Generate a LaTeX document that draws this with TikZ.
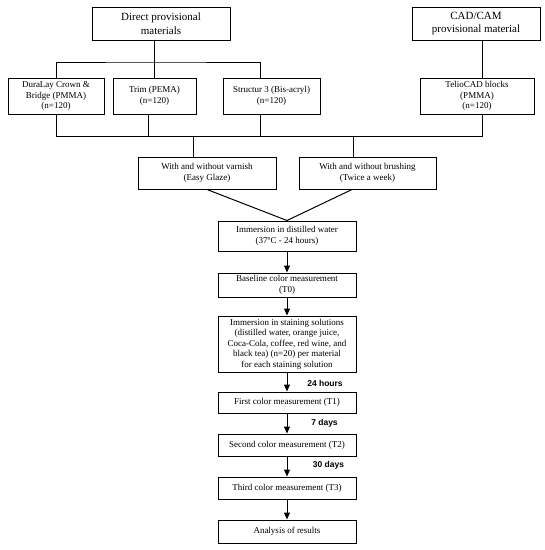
\documentclass[tikz,border=0pt]{standalone}
\usepackage{fontspec}
\setmainfont{Liberation Serif}
\newfontfamily\lblfont{Liberation Sans}
\usetikzlibrary{arrows.meta,calc}
\begin{document}
\begin{tikzpicture}[x=1pt,y=-1pt,
  box/.style={draw,line width=1pt,align=center,inner sep=0pt,minimum height=#1,font=\fontsize{9}{10.5}\selectfont},
  box/.default=24pt,
  bigbox/.style={draw,line width=1pt,align=center,inner sep=0pt,minimum height=33pt,font=\fontsize{11}{13.5}\selectfont},
  conn/.style={line width=1pt},
  arr/.style={line width=1pt,-{Triangle[width=6pt,length=7pt]}},
  lbl/.style={font=\lblfont\bfseries\fontsize{8.5}{10}\selectfont,inner sep=0pt}]
\useasboundingbox (0,0) rectangle (545,550);
\fill[white] (0,0) rectangle (545,550);
% top
\node[bigbox,minimum width=138pt] (dir) at (161,23.5) {Direct provisional\\materials};
\node[bigbox,minimum width=128pt] (cad) at (476,23.5) {CAD/CAM\\provisional material};
% materials
\node[box=36pt,minimum width=96pt] (dura) at (56,96) {DuraLay Crown \&\\Bridge (PMMA)\\(n=120)};
\node[box=36pt,minimum width=83pt] (trim) at (154.5,96) {Trim (PEMA)\\(n=120)};
\node[box=36pt,minimum width=97pt] (str) at (271.5,96) {Structur 3 (Bis-acryl)\\(n=120)};
\node[box=36pt,minimum width=114pt] (tel) at (477,96) {TelioCAD blocks\\(PMMA)\\(n=120)};
% treatments
\node[box=32pt,minimum width=138pt] (var) at (207,173) {With and without varnish\\(Easy Glaze)};
\node[box=32pt,minimum width=137pt] (bru) at (367.5,173) {With and without brushing\\(Twice a week)};
% column
\node[box=30pt,minimum width=138pt] (imm) at (287,236) {Immersion in distilled water\\(37ºC - 24 hours)};
\node[box=24pt,minimum width=138pt] (base) at (287,285) {Baseline color measurement\\(T0)};
\node[box=56pt,minimum width=138pt] (stain) at (287,344) {Immersion in staining solutions\\(distilled water, orange juice,\\Coca-Cola, coffee, red wine, and\\black tea) (n=20) per material\\for each staining solution};
\node[box=21pt,minimum width=138pt] (t1) at (287,402.5) {First color measurement (T1)};
\node[box=22pt,minimum width=138pt] (t2) at (287,445) {Second color measurement (T2)};
\node[box=22pt,minimum width=138pt] (t3) at (287,488) {Third color measurement (T3)};
\node[box=23pt,minimum width=138pt] (res) at (287,531.5) {Analysis of results};
% top connectors
\coordinate (h1) at (154,62);
\coordinate (sx) at (260,0);
\draw[conn] (dura.north) |- (h1) -| (str.north -| sx);
\draw[conn] (dir.south -| h1) -- (trim.north -| h1);
\coordinate (c1) at (482,0);
\draw[conn] (cad.south -| c1) -- (tel.north -| c1);
% lower bus
\coordinate (bus) at (0,136);
\coordinate (tr) at (148,0);
\draw[conn] (dura.south) -- (dura.south |- bus) -- (bus -| c1) -- (tel.south -| c1);
\draw[conn] (trim.south -| tr) -- (bus -| tr);
\draw[conn] (str.south -| sx) -- (bus -| sx);
\coordinate (d1) at (193,136);
\coordinate (d2) at (353,136);
\draw[conn] (d1) -- (var.north -| d1);
\draw[conn] (d2) -- (bru.north -| d2);
% converge
\coordinate (bs) at (352,0);
\draw[conn] (var.south) -- (imm.north) -- (bru.south -| bs);
% arrows
\draw[arr] (imm) -- (base);
\draw[arr] (base) -- (stain);
\draw[arr] (stain) -- (t1);
\draw[arr] (t1) -- (t2);
\draw[arr] (t2) -- (t3);
\draw[arr] (t3) -- (res);
% labels
\node[lbl] (l1) at (325,383) {24 hours};
\node[lbl] (l2) at (324.5,423) {7 days};
\node[lbl] (l3) at (328.5,465) {30 days};
\end{tikzpicture}
\end{document}
